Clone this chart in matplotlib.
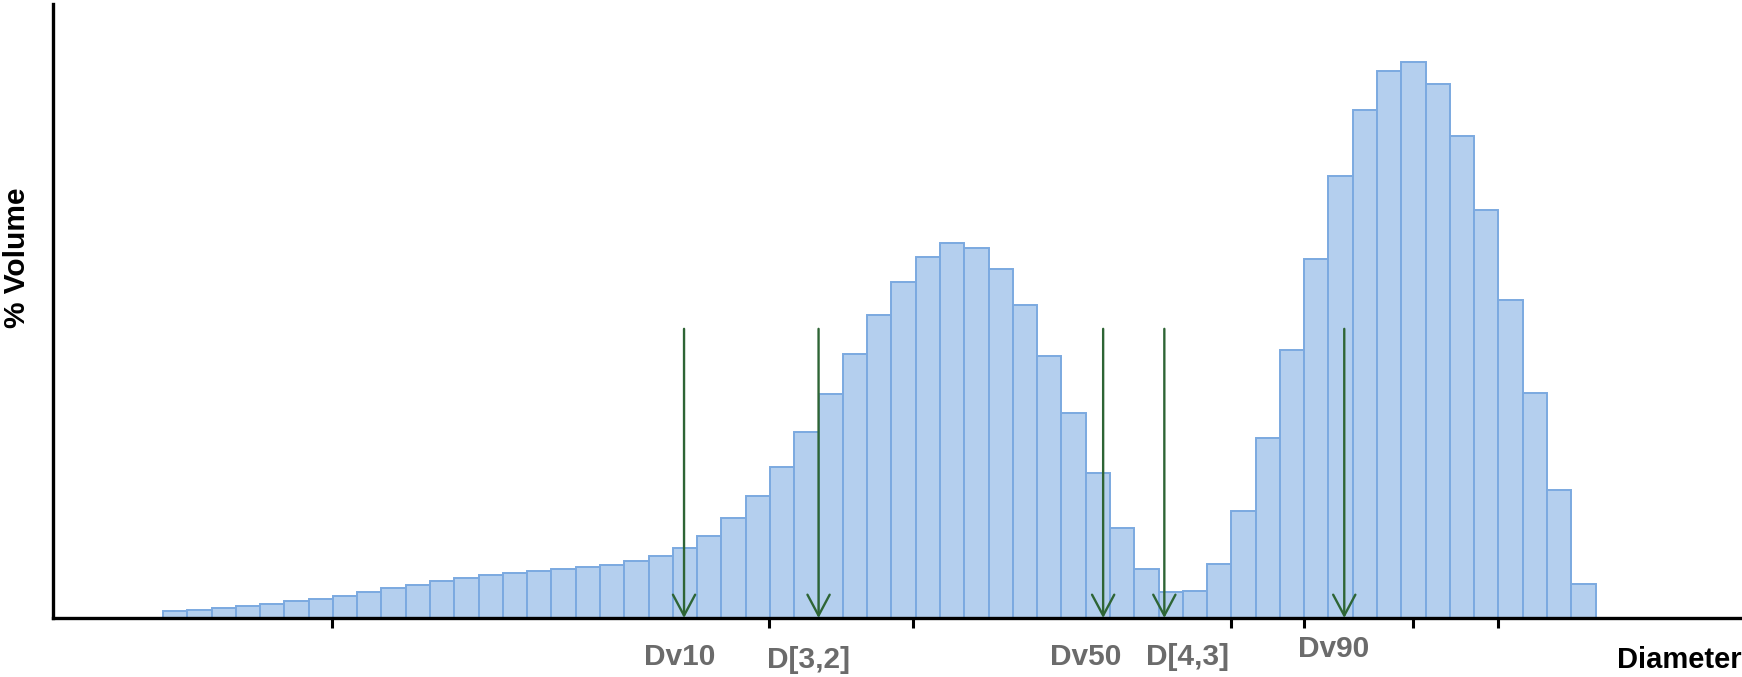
import matplotlib.pyplot as plt

# % volume per size class (59 classes, left to right)
volume = [0.06, 0.075, 0.09, 0.105, 0.125, 0.15, 0.175, 0.20, 0.23, 0.27,
          0.30, 0.33, 0.36, 0.385, 0.405, 0.425, 0.44, 0.46, 0.48, 0.51,
          0.56, 0.63, 0.74, 0.90, 1.10, 1.36, 1.67, 2.01, 2.37, 2.72,
          3.02, 3.25, 3.37, 3.33, 3.14, 2.81, 2.36, 1.84, 1.30, 0.81,
          0.44, 0.23, 0.24, 0.49, 0.96, 1.62, 2.41, 3.23, 3.97, 4.57,
          4.92, 5.00, 4.80, 4.33, 3.67, 2.86, 2.02, 1.15, 0.31]

# marker positions (in size-class units) and their labels
markers = ['Dv10', 'D[3,2]', 'Dv50', 'D[4,3]', 'Dv90']
marker_x = [21.46, 27.0, 38.72, 41.24, 48.65]
label_x = [21.3, 26.6, 38.0, 42.2, 48.2]
label_y = [-0.35, -0.38, -0.35, -0.35, -0.28]
arrow_top = 2.60

tick_x = [6.96, 24.94, 30.89, 43.98, 47.0, 51.49, 54.97]

plt.rcParams['font.family'] = ['Liberation Sans', 'DejaVu Sans']

fig = plt.figure(figsize=(17.42, 6.77), dpi=100)
ax = fig.add_axes([0.0304, 0.0871, 0.9696, 0.9069])

x = range(len(volume))
ax.bar(x, volume, width=1.0, align='edge', color='#b4cfee',
       edgecolor='#7ba9e0', linewidth=1.4)

for mx in marker_x:
    ax.annotate('', xy=(mx, 0), xytext=(mx, arrow_top),
                arrowprops=dict(arrowstyle='->,head_length=15,head_width=8',
                                mutation_scale=1, color='#2e6535', lw=1.7,
                                shrinkA=0, shrinkB=0))

for name, lx, ly in zip(markers, label_x, label_y):
    ax.text(lx, ly, name, ha='center', va='center', fontsize=21.5,
            fontweight='bold', color='#6b6b6b')

ax.text(1.0, -0.068, 'Diameter', transform=ax.transAxes, ha='right',
        va='center', fontsize=21, fontweight='bold', color='black')
ax.set_ylabel('% Volume', fontsize=21.5, fontweight='bold')
ax.yaxis.set_label_coords(-0.0128, 0.586)

ax.set_xlim(-4.53, 65.03)
ax.set_ylim(0, 5.52)
ax.set_xticks(tick_x)
ax.set_xticklabels([])
ax.set_yticks([])
ax.tick_params(axis='x', direction='out', length=7, width=2.2, color='black')

for side in ['top', 'right']:
    ax.spines[side].set_visible(False)
for side in ['left', 'bottom']:
    ax.spines[side].set_linewidth(2.4)
    ax.spines[side].set_color('black')

fig.savefig('out.png', dpi=100)
